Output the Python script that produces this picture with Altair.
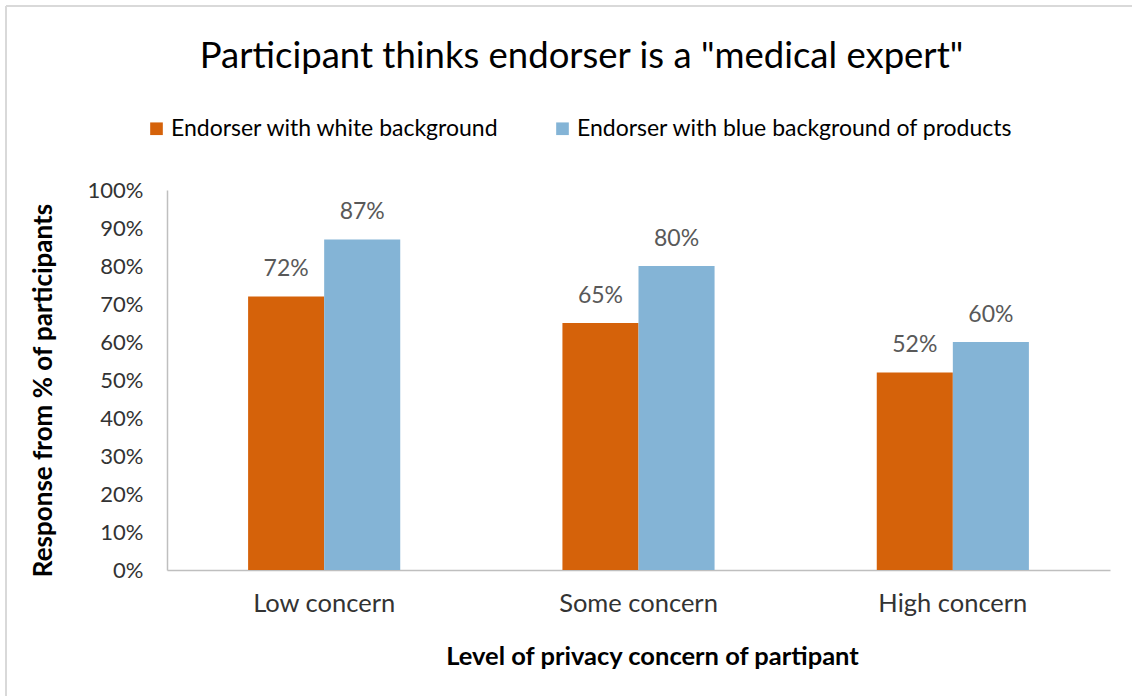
import altair as alt
import pandas as pd

categories = ["Low concern", "Some concern", "High concern"]
series = ["Endorser with white background", "Endorser with blue background of products"]
white_vals = [0.72, 0.65, 0.52]
blue_vals = [0.87, 0.80, 0.60]
colors = ["#D5620A", "#84B4D6"]
y_ticks = [0.0, 0.1, 0.2, 0.3, 0.4, 0.5, 0.6, 0.7, 0.8, 0.9, 1.0]

rows = []
for i, c in enumerate(categories):
    rows.append({"cat": c, "series": series[0], "val": white_vals[i]})
    rows.append({"cat": c, "series": series[1], "val": blue_vals[i]})
df = pd.DataFrame(rows)

FONT = "Lato"
W, H = 943, 380

x = alt.X("cat:N", sort=categories,
          scale=alt.Scale(paddingInner=0.516, paddingOuter=0.258),
          axis=alt.Axis(title="Level of privacy concern of partipant", labelAngle=0,
                        labelFontSize=25.5, labelColor="#333333", labelPadding=21,
                        ticks=False, domainColor="#BFBFBF", domainWidth=1.5,
                        titleFontSize=25.5, titleFontWeight="bold", titleColor="#000000",
                        titlePadding=28, titleX=485))
xo = alt.XOffset("series:N", sort=series)
y = alt.Y("val:Q", scale=alt.Scale(domain=[0, 1]),
          axis=alt.Axis(title="Response from % of participants", format=".0%",
                        values=y_ticks, grid=False, ticks=False,
                        labelOverlap=False,
                        labelFontSize=22, labelColor="#333333", labelPadding=24,
                        domainColor="#BFBFBF", domainWidth=1.5,
                        titleFontSize=26, titleFontWeight="bold", titleColor="#000000",
                        titlePadding=31, titleY=200))

bars = alt.Chart(df).mark_bar().encode(
    x=x, xOffset=xo, y=y,
    color=alt.Color("series:N", sort=series,
                    scale=alt.Scale(domain=series, range=colors),
                    legend=alt.Legend(title=None, orient="none", direction="horizontal",
                                      legendX=-22, legendY=-73, symbolType="square",
                                      symbolSize=160, symbolStrokeWidth=0,
                                      labelFontSize=23, labelColor="#000000", labelLimit=0,
                                      columnPadding=52, labelOffset=3)),
)

labels = alt.Chart(df).mark_text(baseline="bottom", dy=-15, fontSize=23,
                                 color="#595959", font=FONT).encode(
    x=x, xOffset=xo, y=y,
    text=alt.Text("val:Q", format=".0%"),
)

border_top = alt.Chart(df).mark_rule(color="#D9D9D9", strokeWidth=2).encode(
    x=alt.value(-161), x2=alt.value(W + 30), y=alt.value(-184))
border_left = alt.Chart(df).mark_rule(color="#D9D9D9", strokeWidth=2).encode(
    x=alt.value(-161), y=alt.value(-184), y2=alt.value(H + 130))

chart = alt.layer(bars, labels, border_top, border_left).properties(
    width=W, height=H,
    title=alt.TitleParams('Participant thinks endorser is a "medical expert"',
                          fontSize=36.5, font=FONT, fontWeight="normal", color="#000000",
                          anchor="middle", offset=-70, dx=-57),
    autosize=alt.AutoSizeParams(type="none"),
    padding={"left": 167, "top": 190, "right": 22, "bottom": 126},
).configure(font=FONT).configure_view(stroke=None)

chart.save("out.html", embed_options={"renderer": "svg", "actions": False})
